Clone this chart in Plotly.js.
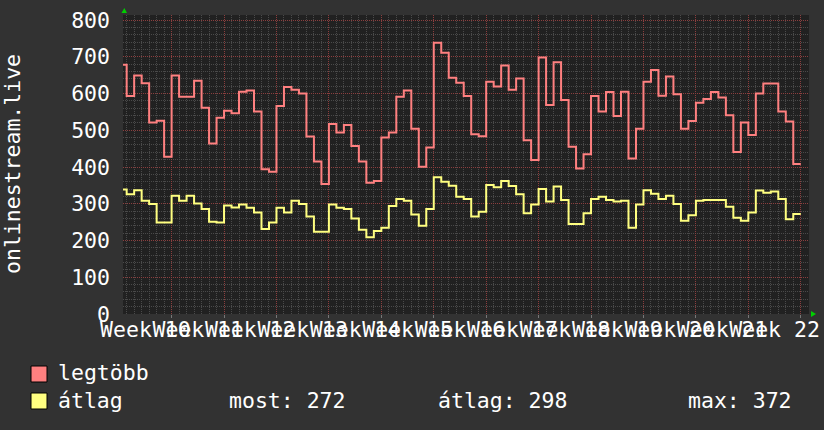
<!DOCTYPE html>
<html>
<head>
    <meta charset="utf-8">
    <title>onlinestream.live</title>
    <script src="https://cdn.plot.ly/plotly-3.0.1.min.js" charset="utf-8"></script>
    <style>
        * { margin: 0; padding: 0; box-sizing: border-box; }
        body { background: #323232; }
        #grafik { width: 824px; height: 430px; }
    </style>
</head>
<body>
<div id="grafik"></div>
<script>
    // napi értékek, az első a bal szélen levágott részleges nap
    const legtobb = [678,
        593, 649, 628, 521, 526, 428, 649, 591, 591, 635,
        561, 464, 534, 553, 546, 605, 608, 551, 394, 387,
        566, 618, 610, 600, 483, 415, 354, 517, 494, 514,
        457, 415, 357, 362, 480, 494, 591, 608, 504, 401,
        453, 738, 711, 643, 629, 593, 489, 484, 632, 619,
        676, 610, 641, 473, 419, 698, 569, 685, 582, 455,
        396, 435, 593, 551, 604, 539, 605, 423, 504, 632,
        664, 594, 646, 598, 504, 525, 575, 585, 604, 589,
        541, 441, 521, 487, 600, 627, 627, 551, 524, 408];
    const atlag = [339,
        326, 337, 308, 299, 249, 249, 322, 308, 322, 301,
        286, 251, 249, 295, 290, 298, 289, 276, 231, 249,
        289, 276, 308, 299, 265, 224, 224, 298, 289, 286,
        260, 229, 209, 226, 235, 294, 313, 308, 271, 240,
        286, 372, 360, 349, 319, 313, 265, 278, 351, 345,
        362, 348, 326, 274, 298, 340, 306, 347, 310, 245,
        245, 274, 313, 319, 310, 306, 308, 235, 298, 337,
        327, 313, 322, 299, 254, 269, 308, 310, 310, 310,
        292, 262, 254, 276, 336, 330, 333, 313, 258, 272];
    const weekLabels = ['Week 10', 'Week 11', 'Week 12', 'Week 13', 'Week 14', 'Week 15', 'Week 16',
        'Week 17', 'Week 18', 'Week 19', 'Week 20', 'Week 21', 'Week 22'];
    const seriesNames = ['legtöbb', 'átlag'];
    const seriesColors = ['#ff8080', '#ffff80'];
    const statLabels = ['most', 'átlag', 'max'];
    const statValues = [272, 298, 372];

    const W = 824, H = 430;
    const M = {l: 123, r: 15, t: 15, b: 116};
    const X0 = -0.49, X1 = 91.1, YMAX = 813.6;
    const FONT = 'DejaVu Sans Mono, monospace';
    const FS = 21.5;
    const MAJOR = '#8c3e3e', MINOR = '#4a4a4a';

    // pixel -> paper koordináta
    function px(x) { return (x - M.l) / (W - M.l - M.r); }
    function py(y) { return (H - M.b - y) / (H - M.t - M.b); }

    function stepTrace(vals, color, xaxis) {
        let trace = {
            x: [], y: [],
            type: 'scatter', mode: 'lines', xaxis: xaxis,
            line: {color: color, width: 2, shape: 'hv'},
            hoverinfo: 'skip', showlegend: false
        };
        for (let i = 0; i < vals.length; i++) {
            trace.x.push(i - 1);
            trace.y.push(vals[i]);
        }
        trace.x.push(vals.length - 1);
        trace.y.push(vals[vals.length - 1]);
        return trace;
    }

    function textAt(text, x, yMid) {
        return {
            text: text, xref: 'paper', yref: 'paper',
            x: px(x), y: py(yMid), xanchor: 'left', yanchor: 'middle',
            showarrow: false, font: {family: FONT, size: FS, color: '#ffffff'}
        };
    }

    function box(x0, y0, x1, y1, color) {
        return {
            type: 'rect', xref: 'paper', yref: 'paper',
            x0: px(x0), x1: px(x1), y0: py(y0), y1: py(y1),
            fillcolor: color, line: {color: '#000000', width: 1}
        };
    }

    function tri(points) {
        let path = points.map((p, i) => (i ? 'L' : 'M') + px(p[0]) + ',' + py(p[1])).join(' ') + ' Z';
        return {type: 'path', xref: 'paper', yref: 'paper', path: path,
            fillcolor: '#00d000', line: {width: 0}};
    }

    let tickvals = weekLabels.map((w, i) => 2.5 + 7 * i);

    let data = [
        stepTrace(legtobb, seriesColors[0], 'x'),
        stepTrace(atlag, seriesColors[1], 'x2')
    ];

    let annotations = [
        {
            text: 'onlinestream.live', xref: 'paper', yref: 'paper',
            x: px(12), y: py(164), xanchor: 'center', yanchor: 'middle', textangle: -90,
            showarrow: false, font: {family: FONT, size: FS, color: '#ffffff'}
        },
        textAt(seriesNames[0], 56, 372),
        textAt(seriesNames[1], 56, 400)
    ];
    let statX = [227, 436, 686];
    statLabels.forEach((s, i) => annotations.push(textAt(s + ': ' + statValues[i], statX[i], 400)));

    let shapes = [
        box(31, 366, 47, 382, seriesColors[0]),
        box(31, 393, 47, 409, seriesColors[1]),
        tri([[121.5, 13], [127, 13], [124.3, 8]]),
        tri([[811, 311], [811, 317], [816, 314]])
    ];

    let layout = {
        width: W, height: H,
        margin: M,
        paper_bgcolor: '#323232',
        plot_bgcolor: '#212121',
        font: {family: FONT, size: FS, color: '#ffffff'},
        showlegend: false,
        xaxis: {
            range: [X0, X1], fixedrange: true,
            tick0: 6, dtick: 7,
            showgrid: true, gridcolor: MAJOR, griddash: '1px,1px', gridwidth: 1,
            minor: {tick0: 0, dtick: 1, showgrid: true, gridcolor: MINOR, griddash: '1px,1px', gridwidth: 1},
            showticklabels: false, ticks: 'outside', ticklen: 3, tickcolor: '#777777',
            zeroline: false, showline: false
        },
        xaxis2: {
            range: [X0, X1], fixedrange: true,
            overlaying: 'x', anchor: 'y', side: 'bottom',
            tickmode: 'array', tickvals: tickvals, ticktext: weekLabels,
            tickangle: 0, ticks: '', showgrid: false, zeroline: false,
            tickfont: {family: FONT, size: FS, color: '#ffffff'}
        },
        yaxis: {
            range: [0, YMAX], fixedrange: true,
            tick0: 0, dtick: 100,
            showgrid: true, gridcolor: MAJOR, griddash: '1px,1px', gridwidth: 1,
            minor: {tick0: 0, dtick: 20, showgrid: true, gridcolor: MINOR, griddash: '1px,1px', gridwidth: 1},
            ticks: '', ticklabelstandoff: 12, zeroline: false,
            tickfont: {family: FONT, size: FS, color: '#ffffff'}
        },
        annotations: annotations,
        shapes: shapes
    };

    Plotly.newPlot('grafik', data, layout, {staticPlot: true, displayModeBar: false});
</script>
</body>
</html>
